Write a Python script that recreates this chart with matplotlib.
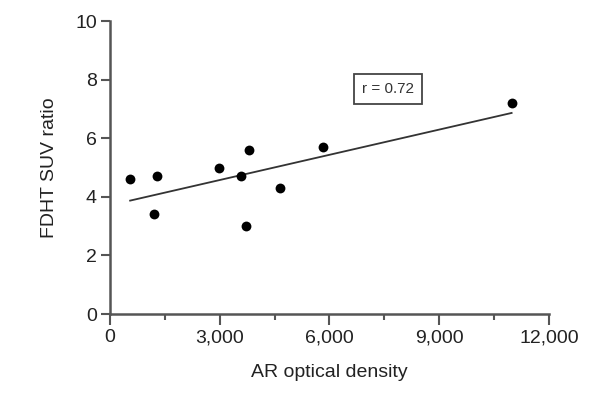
import numpy as np
import matplotlib
matplotlib.use("Agg")
import matplotlib.pyplot as plt
from matplotlib.ticker import FuncFormatter, MultipleLocator

plt.rcParams['font.family'] = ['Liberation Sans', 'DejaVu Sans']

# AR optical density vs FDHT SUV ratio
ar_density = [550, 1290, 1200, 2970, 3580, 3810, 3730, 4650, 5820, 10980]
suv_ratio = [4.6, 4.7, 3.4, 5.0, 4.7, 5.6, 3.0, 4.3, 5.7, 7.2]
r_label = "r = 0.72"

x_ticks = [0, 3000, 6000, 9000, 12000]
y_ticks = [0, 2, 4, 6, 8, 10]

axis_col = "#555555"

fig = plt.figure(figsize=(5.96, 3.97), dpi=100)
ax = fig.add_axes([0.1846, 0.209, 0.7364, 0.738])

x = np.array(ar_density, dtype=float)
y = np.array(suv_ratio, dtype=float)

ax.scatter(x, y, s=50, color="black", zorder=3, linewidths=0)

slope, intercept = np.polyfit(x, y, 1)
xl = np.array([x.min(), x.max()])
ax.plot(xl, slope * xl + intercept, color="#333333", lw=1.3, zorder=2)

ax.text(7600, 7.68, r_label, ha="center", va="center", fontsize=11,
        color="#333333",
        bbox=dict(boxstyle="square,pad=0.55", fc="white", ec="#444444", lw=1.3))

ax.set_xlim(0, 12000)
ax.set_ylim(0, 10)
ax.set_xticks(x_ticks)
ax.set_yticks(y_ticks)
ax.xaxis.set_minor_locator(MultipleLocator(1500))
ax.xaxis.set_major_formatter(FuncFormatter(lambda v, p: f"{int(v):,}"))

for side in ("top", "right"):
    ax.spines[side].set_visible(False)
for side in ("left", "bottom"):
    ax.spines[side].set_color(axis_col)
    ax.spines[side].set_linewidth(1.8)

ax.tick_params(axis="x", which="major", length=8, width=1.5,
               color=axis_col, labelsize=14, labelcolor="#222222", pad=3)
ax.tick_params(axis="y", which="major", length=6.5, width=1.5,
               color=axis_col, labelsize=14, labelcolor="#222222", pad=3)
ax.tick_params(axis="x", which="minor", length=4, width=1.5, color=axis_col)

ax.set_xlabel("AR optical density", fontsize=14, color="#222222", labelpad=13)
ax.set_ylabel("FDHT SUV ratio", fontsize=14, color="#222222", labelpad=12)

fig.savefig("out.png", dpi=100, facecolor="white")
